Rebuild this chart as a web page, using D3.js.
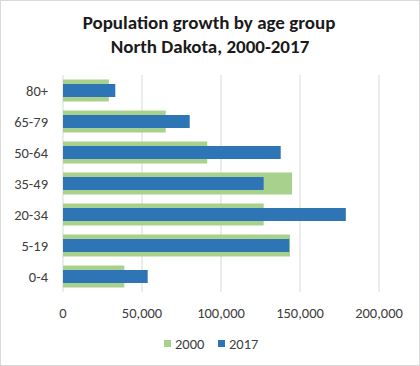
<!DOCTYPE html>
<html>
<head>
<style>
  body { margin: 0; background: #fff; }
  svg { font-family: Carlito, Calibri, Lato, sans-serif; }
</style>
</head>
<body>
<svg width="420" height="366" id="chart"></svg>
<script src="https://d3js.org/d3.v7.min.js"></script>
<script>
const groups = ['80+', '65-79', '50-64', '35-49', '20-34', '5-19', '0-4']
const pop2000 = [29000, 65000, 91300, 145000, 127000, 143700, 38800]
const pop2017 = [33100, 80200, 137800, 127000, 179000, 143200, 53600]
const xTicks = [0, 50000, 100000, 150000, 200000]

const svg = d3.select('#chart')

svg.append('rect')
  .attr('x', 0.5).attr('y', 0.5)
  .attr('width', 419).attr('height', 365)
  .attr('fill', '#fff').attr('stroke', '#d9d9d9')

svg.append('text')
  .attr('x', 209).attr('y', 29)
  .attr('text-anchor', 'middle')
  .attr('font-size', 19).attr('font-weight', 'bold').attr('fill', '#1a1a1a')
  .text('Population growth by age group')
svg.append('text')
  .attr('x', 210).attr('y', 53)
  .attr('text-anchor', 'middle')
  .attr('font-size', 19).attr('font-weight', 'bold').attr('fill', '#1a1a1a')
  .text('North Dakota, 2000-2017')

const x = d3.scaleLinear().domain([0, 200000]).range([63, 379])
const y = d3.scaleBand().domain(groups).range([75, 292]).padding(0)

// gridlines
svg.append('g')
  .selectAll('line')
  .data(xTicks)
  .enter()
  .append('line')
    .attr('x1', d => x(d)).attr('x2', d => x(d))
    .attr('y1', 75).attr('y2', 292)
    .attr('stroke', '#d9d9d9').attr('stroke-width', 1)

const rows = groups.map((g, i) => ({ g, a: pop2000[i], b: pop2017[i] }))

svg.append('g')
  .selectAll('rect')
  .data(rows)
  .enter()
  .append('rect')
    .attr('x', x(0))
    .attr('y', d => y(d.g) + y.bandwidth() / 2 - 11)
    .attr('width', d => x(d.a) - x(0))
    .attr('height', 22)
    .attr('fill', '#a9d18e')

svg.append('g')
  .selectAll('rect')
  .data(rows)
  .enter()
  .append('rect')
    .attr('x', x(0))
    .attr('y', d => y(d.g) + y.bandwidth() / 2 - 6.5)
    .attr('width', d => x(d.b) - x(0))
    .attr('height', 13)
    .attr('fill', '#2e75b6')

// category labels
svg.append('g')
  .selectAll('text')
  .data(groups)
  .enter()
  .append('text')
    .attr('x', 48)
    .attr('y', d => y(d) + y.bandwidth() / 2)
    .attr('dy', '0.35em')
    .attr('text-anchor', 'end')
    .attr('font-size', 14.5).attr('fill', '#404040')
    .text(d => d)

// x tick labels
svg.append('g')
  .selectAll('text')
  .data(xTicks)
  .enter()
  .append('text')
    .attr('x', d => x(d))
    .attr('y', 313)
    .attr('dy', '0.35em')
    .attr('text-anchor', 'middle')
    .attr('font-size', 14.5).attr('fill', '#404040')
    .text(d => d3.format(',')(d))

// legend
const legend = [{ k: '2000', c: '#a9d18e', x: 164 }, { k: '2017', c: '#2e75b6', x: 218 }]
const lg = svg.append('g').selectAll('g').data(legend).enter().append('g')
lg.append('rect')
  .attr('x', d => d.x).attr('y', 340)
  .attr('width', 7).attr('height', 7)
  .attr('fill', d => d.c)
lg.append('text')
  .attr('x', d => d.x + 11).attr('y', 344)
  .attr('dy', '0.35em')
  .attr('font-size', 14.5).attr('fill', '#404040')
  .text(d => d.k)
</script>
</body>
</html>
